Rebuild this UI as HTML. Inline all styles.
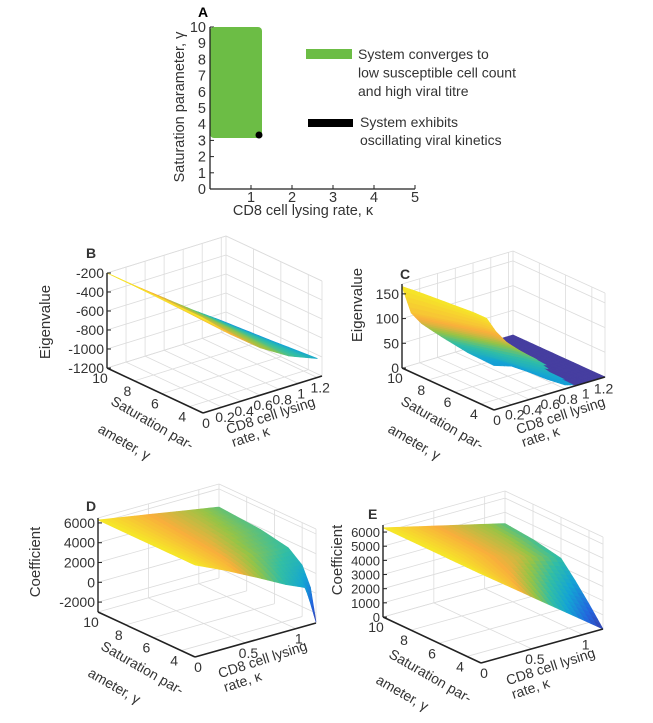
<!DOCTYPE html>
<html><head><meta charset="utf-8"><style>
html,body{margin:0;padding:0;background:#fff;}
svg{display:block;font-family:"Liberation Sans",sans-serif;}
</style></head><body>
<svg id="fig" width="653" height="723" viewBox="0 0 653 723" xmlns="http://www.w3.org/2000/svg">
<g>
  <text x="198" y="17" font-size="14" font-weight="bold">A</text>
  <g id="aTicks"></g>
  <rect x="210" y="27" width="52" height="111" rx="4" fill="#6cbd45"/>
  <circle cx="259" cy="135" r="3.5" fill="#000"/>
  <line x1="210" y1="27" x2="210" y2="189" stroke="#222" stroke-width="1.3"/>
  <line x1="210" y1="189" x2="415" y2="189" stroke="#222" stroke-width="1.3"/>
  <text transform="translate(184,107) rotate(-90)" text-anchor="middle" font-size="14.5" fill="#333">Saturation parameter, γ</text>
  <text x="303" y="215" text-anchor="middle" font-size="14.5" fill="#333">CD8 cell lysing rate, κ</text>
  <rect x="306" y="49" width="46" height="10" fill="#6cbd45"/>
  <text x="358" y="59" font-size="14" fill="#333"><tspan x="358">System converges to</tspan><tspan x="358" dy="18.5">low susceptible cell count</tspan><tspan x="358" dy="18.5">and high viral titre</tspan></text>
  <rect x="308" y="119" width="45" height="8" fill="#000"/>
  <text x="360" y="127" font-size="14" fill="#333"><tspan x="360">System exhibits</tspan><tspan x="360" dy="18">oscillating viral kinetics</tspan></text>
</g>
<g id="panels"></g>
</svg>
<script>
// ---- Panel A data ----
const aXTicks = [1,2,3,4,5];
const aYTicks = [0,1,2,3,4,5,6,7,8,9,10];

// ---- Panel B data ----
const bGammas = [3, 6.5, 10];
const bKappas = [0, 0.3, 0.6, 0.9, 1.2];
const bValues = [
  [-200,-470,-700,-880,-1000],
  [-200,-450,-670,-870,-1040],
  [-200,-430,-650,-870,-1075]];
const bZTicks = [-1200,-1000,-800,-600,-400,-200];
const bGTicks = [4,6,8,10];
const bKTicks = [0,0.2,0.4,0.6,0.8,1,1.2];

// ---- Panel C data ----
const cGammas = [3,5,7,8.5,9.3,10];
const cKappas = [0,0.2,0.4,0.6,0.8,0.95,1.05,1.25];
const cValues = [
  [90,78,55,30,8,0,0,0],
  [92,74,54,33,14,0,0,0],
  [100,82,64,46,28,12,0,0],
  [108,90,72,54,36,20,0,0],
  [120,102,84,66,48,32,0,0],
  [165,142,118,94,70,50,0,0]];
const cZTicks = [0,50,100,150];
const cGTicks = [4,6,8,10];
const cKTicks = [0,0.2,0.4,0.6,0.8,1,1.2];

// ---- Panel D data ----
const dGammas = [3,3.4,4,5,7,10];
const dKappas = [0,0.3,0.6,0.9,1.1,1.2];
const dValues = [
  [6300,4900,3360,1750,850,-2900],
  [6300,5000,3600,2200,1400,330],
  [6300,5100,3900,2700,2250,2200],
  [6300,5250,4250,3450,3250,3300],
  [6300,5450,4700,4100,3900,3850],
  [6300,5770,5240,4700,4350,4170]];
const dZTicks = [-2000,0,2000,4000,6000];
const dGTicks = [4,6,8,10];
const dKTicks = [0,0.5,1];

// ---- Panel E data ----
const eGammas = [3,4,5,6,8,10];
const eKappas = [0,0.3,0.6,0.9,1.2];
const eValues = [
  [6300,4730,3150,1580,0],
  [6300,5050,3800,2550,1300],
  [6300,5350,4400,3450,2500],
  [6300,5625,4950,4275,3600],
  [6300,5725,5150,4575,4000],
  [6300,5775,5250,4725,4200]];
const eZTicks = [0,1000,2000,3000,4000,5000,6000];
const eGTicks = [4,6,8,10];
const eKTicks = [0,0.5,1];

const NS = "http://www.w3.org/2000/svg";
function mk(tag, attrs, parent){const e=document.createElementNS(NS,tag);for(const k in attrs)e.setAttribute(k,attrs[k]);parent.appendChild(e);return e;}

// Panel A ticks
const aT = document.getElementById('aTicks');
const ax = k => 210 + k*41, ay = g => 189 - g*16.2;
aXTicks.forEach(t=>{
  const l=mk('line',{x1:ax(t),y1:189,x2:ax(t),y2:185,stroke:'#222'},aT);
  
  
  const tx=mk('text',{x:ax(t),y:202,'text-anchor':'middle','font-size':14.5,fill:'#333'},aT);
  tx.textContent=t;
  
  
});
aYTicks.forEach(t=>{
  const l=mk('line',{x1:210,y1:ay(t),x2:214,y2:ay(t),stroke:'#222'},aT);
  
  
  const tx=mk('text',{x:206,y:ay(t)+5,'text-anchor':'end','font-size':14.5,fill:'#333'},aT);
  tx.textContent=t;
  
  
});

// parula-like colormap
const stops=[[0,[62,50,150]],[0.2,[36,100,222]],[0.4,[20,165,212]],[0.55,[50,190,165]],[0.7,[150,196,70]],[0.85,[248,175,60]],[1,[246,232,40]]];
function cmap(t){t=Math.max(0,Math.min(1,t));for(let i=1;i<stops.length;i++){if(t<=stops[i][0]){const a=stops[i-1],b=stops[i];const f=(t-a[0])/(b[0]-a[0]);const c=a[1].map((v,j)=>Math.round(v+(b[1][j]-v)*f));return `rgb(${c})`;}}return 'rgb(246,232,40)';}

function panel(cfg){
  const g = mk('g',{},document.getElementById('panels'));
  
  
  const P=(gm,k,z)=>{const u=(gm-cfg.gmin)/(cfg.gmax-cfg.gmin),v=(k-cfg.kmin)/(cfg.kmax-cfg.kmin),w=(z-cfg.zmin)/(cfg.zmax-cfg.zmin);return [cfg.O[0]+cfg.G[0]*u+cfg.K[0]*v, cfg.O[1]+cfg.G[1]*u+cfg.K[1]*v-cfg.H*w];};
  const line=(a,b,st,sw,name)=>{const l=mk('line',{x1:a[0],y1:a[1],x2:b[0],y2:b[1],stroke:st,'stroke-width':sw},g);return l;};
  const gr='#dcdcdc';
  cfg.kt.forEach(k=>line(P(cfg.gmax,k,cfg.zmin),P(cfg.gmax,k,cfg.zmax),gr,0.8,'grid-line'));
  cfg.zt.concat([cfg.zmax]).forEach(z=>line(P(cfg.gmax,cfg.kmin,z),P(cfg.gmax,cfg.kmax,z),gr,0.8,'grid-line'));
  cfg.gt.forEach(gm=>line(P(gm,cfg.kmax,cfg.zmin),P(gm,cfg.kmax,cfg.zmax),gr,0.8,'grid-line'));
  cfg.zt.concat([cfg.zmax]).forEach(z=>line(P(cfg.gmin,cfg.kmax,z),P(cfg.gmax,cfg.kmax,z),gr,0.8,'grid-line'));
  line(P(cfg.gmin,cfg.kmax,cfg.zmin),P(cfg.gmin,cfg.kmax,cfg.zmax),gr,0.8,'grid-line');
  cfg.gt.forEach(gm=>line(P(gm,cfg.kmin,cfg.zmin),P(gm,cfg.kmax,cfg.zmin),gr,0.8,'grid-line'));
  cfg.kt.forEach(k=>line(P(cfg.gmin,k,cfg.zmin),P(cfg.gmax,k,cfg.zmin),gr,0.8,'grid-line'));
  const Gs=cfg.gammas,Ks=cfg.kappas,V=cfg.values;
  let zmn=Infinity,zmx=-Infinity;V.forEach(r=>r.forEach(z=>{zmn=Math.min(zmn,z);zmx=Math.max(zmx,z);}));
  const S=5;
  const patches=[];
  for(let i=0;i<Gs.length-1;i++)for(let j=0;j<Ks.length-1;j++){
    for(let a=0;a<S;a++)for(let b=0;b<S;b++){
      const corner=(fa,fb)=>{
        const gm=Gs[i]+(Gs[i+1]-Gs[i])*fa, k=Ks[j]+(Ks[j+1]-Ks[j])*fb;
        const z=V[i][j]*(1-fa)*(1-fb)+V[i+1][j]*fa*(1-fb)+V[i][j+1]*(1-fa)*fb+V[i+1][j+1]*fa*fb;
        return {gm,k,z};
      };
      const c=[corner(a/S,b/S),corner(a/S,(b+1)/S),corner((a+1)/S,(b+1)/S),corner((a+1)/S,b/S)];
      const gm=(c[0].gm+c[2].gm)/2,k=(c[0].k+c[2].k)/2,z=(c[0].z+c[1].z+c[2].z+c[3].z)/4;
      const depth=(gm-cfg.gmin)/(cfg.gmax-cfg.gmin)+(k-cfg.kmin)/(cfg.kmax-cfg.kmin);
      patches.push({c,gm,k,z,depth});
    }
  }
  patches.sort((a,b)=>b.depth-a.depth);
  const sg=mk('g',{},g);
  
  
  patches.forEach(p=>{
    const pts=p.c.map(c=>P(c.gm,c.k,c.z));
    const col=cfg.color?cfg.color(p.gm,p.k,p.z):cmap(Math.pow((p.z-zmn)/(zmx-zmn),cfg.cpow||1));
    const poly=mk('polygon',{points:pts.map(q=>q.join(',')).join(' '),fill:col,stroke:col,'stroke-width':0.7,'stroke-linejoin':'round'},sg);
    
    
  });
  line(P(cfg.gmax,cfg.kmin,cfg.zmin),P(cfg.gmax,cfg.kmin,cfg.zmax),'#222',1.4,'z-axis');
  line(P(cfg.gmin,cfg.kmin,cfg.zmin),P(cfg.gmax,cfg.kmin,cfg.zmin),'#222',1.6,'gamma-axis');
  line(P(cfg.gmin,cfg.kmin,cfg.zmin),P(cfg.gmin,cfg.kmax,cfg.zmin),'#222',1.6,'kappa-axis');
  const txt=(x,y,s,anchor,name,extra)=>{const t=mk('text',Object.assign({x,y,'text-anchor':anchor,'font-size':14,fill:'#333'},extra||{}),g);t.textContent=s;return t;};
  cfg.zt.forEach(z=>{const p=P(cfg.gmax,cfg.kmin,z);line(p,[p[0]+4,p[1]],'#222',1,'z-tick');txt(p[0]-3,p[1]+5,String(z),'end','z-tick-label',cfg.zfs?{'font-size':cfg.zfs}:null);});
  cfg.gt.forEach(gm=>{const p=P(gm,cfg.kmin,cfg.zmin);txt(p[0]-7,p[1]+15,String(gm),'middle','gamma-tick-label');});
  cfg.kt.forEach(k=>{const p=P(cfg.gmin,k,cfg.zmin);txt(p[0]+3,p[1]+15,String(k),'middle','kappa-tick-label');});
  txt(cfg.lbl[0],cfg.lbl[1],cfg.id.toUpperCase(),'start','panel-label',{'font-weight':'bold'});
  txt(0,0,cfg.ztitle,'middle','z-axis-title',{transform:`translate(${cfg.zl[0]},${cfg.zl[1]}) rotate(-90)`,'font-size':15});
  txt(0,0,'Saturation par-','middle','gamma-axis-title',{transform:`translate(${cfg.gl1[0]},${cfg.gl1[1]}) rotate(30)`});
  txt(0,0,'ameter, γ','middle','gamma-axis-title-line2',{transform:`translate(${cfg.gl2[0]},${cfg.gl2[1]}) rotate(30)`});
  txt(0,0,'CD8 cell lysing','middle','kappa-axis-title',{transform:`translate(${cfg.kl1[0]},${cfg.kl1[1]}) rotate(-18)`});
  txt(0,0,'rate, κ','middle','kappa-axis-title-line2',{transform:`translate(${cfg.kl2[0]},${cfg.kl2[1]}) rotate(-18)`});
}

panel({id:'b',O:[203,413],G:[-96,-45],K:[119,-37],H:95,gmin:3,gmax:10,kmin:0,kmax:1.25,zmin:-1200,zmax:-200,cpow:0.35,
  gammas:bGammas,kappas:bKappas,values:bValues,zt:bZTicks,gt:bGTicks,kt:bKTicks,
  lbl:[86,258],ztitle:'Eigenvalue',zl:[50,322],gl1:[150,427],gl2:[122,446],kl1:[272,420],kl2:[252,441]});
panel({id:'c',O:[494,410],G:[-92,-42],K:[111,-33],H:84,gmin:3,gmax:10,kmin:0,kmax:1.25,zmin:0,zmax:170,
  color:(gm,k,z)=> z<3 ? 'rgb(70,62,160)' : cmap(0.38+0.62*Math.pow((gm-3)/7,1.6)),
  gammas:cGammas,kappas:cKappas,values:cValues,zt:cZTicks,gt:cGTicks,kt:cKTicks,
  lbl:[400,279],ztitle:'Eigenvalue',zl:[362,305],gl1:[440,427],gl2:[412,446],kl1:[562,420],kl2:[542,441]});
panel({id:'d',O:[195,657],G:[-97,-45],K:[121,-34],H:94,gmin:3,gmax:10,kmin:0,kmax:1.2,zmin:-3000,zmax:6500,
  color:(gm,k,z)=>cmap(1-0.35*(k/1.2)-0.6*Math.max(0,(4500-z)/7400)),
  gammas:dGammas,kappas:dKappas,values:dValues,zt:dZTicks,gt:dGTicks,kt:dKTicks,
  lbl:[86,511],ztitle:'Coefficient',zl:[40,562],gl1:[140,672],gl2:[112,690],kl1:[264,664],kl2:[244,686]});
panel({id:'e',O:[481,663],G:[-98,-46],K:[122,-34],H:92,gmin:3,gmax:10,kmin:0,kmax:1.2,zmin:0,zmax:6500,zfs:13,
  color:(gm,k,z)=>cmap(1-0.35*(k/1.2)-0.6*Math.max(0,(4500-z)/4500)),
  gammas:eGammas,kappas:eKappas,values:eValues,zt:eZTicks,gt:eGTicks,kt:eKTicks,
  lbl:[368,519],ztitle:'Coefficient',zl:[342,560],gl1:[428,680],gl2:[400,697],kl1:[552,671],kl2:[532,693]});
</script>
</body></html>
